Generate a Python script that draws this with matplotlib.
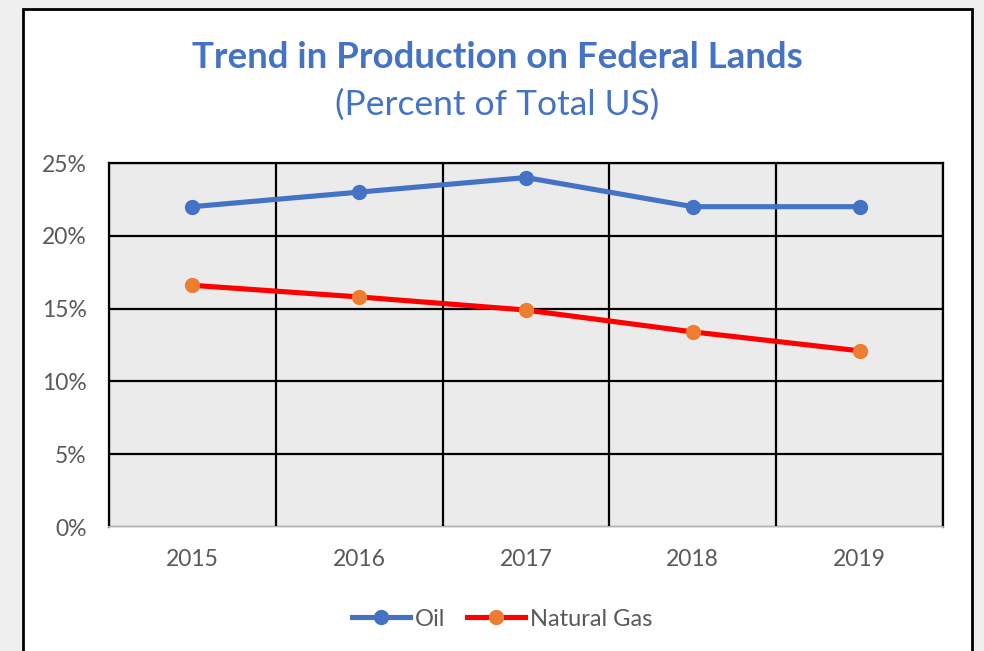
import numpy as np
import matplotlib.pyplot as plt
from matplotlib.patches import Rectangle
from matplotlib.ticker import FuncFormatter, MultipleLocator

years = ['2015', '2016', '2017', '2018', '2019']
oil = [22.0, 23.0, 24.0, 22.0, 22.0]
natural_gas = [16.6, 15.8, 14.9, 13.4, 12.1]

BLUE = '#4472C4'
ORANGE = '#ED7D31'
RED = '#FF0000'
GREY_TXT = '#595959'

plt.rcParams['font.family'] = ['Lato', 'DejaVu Sans']

fig = plt.figure(figsize=(9.84, 6.51), dpi=100)
fig.patch.set_facecolor('#efefef')

# white chart frame with black border (bottom runs off the image)
W, H = 984, 651
frame = Rectangle((23 / W, -20 / H), (972 - 23) / W, (651 - 9 + 20) / H,
                  transform=fig.transFigure, facecolor='white',
                  edgecolor='black', linewidth=2.0, zorder=-5)
fig.add_artist(frame)

ax = fig.add_axes([109 / W, 1 - 527 / H, (943 - 109) / W, (527 - 163) / H])
ax.set_zorder(2)
ax.set_facecolor('#ebebeb')

x = np.arange(len(years))
ax.plot(x, oil, color=BLUE, lw=3.7, marker='o', ms=10,
        mfc=BLUE, mec=BLUE, zorder=4, solid_capstyle='round')
ax.plot(x, natural_gas, color=RED, lw=3.7, marker='o', ms=10,
        mfc=ORANGE, mec=ORANGE, zorder=4, solid_capstyle='round')

ax.set_xlim(-0.5, len(years) - 0.5)
ax.set_ylim(0, 25)
ax.set_xticks(x)
ax.set_xticklabels(years)
ax.xaxis.set_minor_locator(MultipleLocator(1, offset=0.5))
ax.yaxis.set_major_locator(MultipleLocator(5))
ax.yaxis.set_major_formatter(FuncFormatter(lambda v, p: f'{v:.0f}%'))

ax.grid(which='minor', axis='x', color='black', lw=1.6, zorder=1)
ax.grid(which='major', axis='y', color='black', lw=1.6, zorder=1)
ax.set_axisbelow(True)

ax.tick_params(axis='both', which='both', length=0, colors=GREY_TXT, labelsize=16.5)
ax.tick_params(axis='x', pad=16)
ax.tick_params(axis='y', pad=16)

for side in ['top', 'left', 'right']:
    ax.spines[side].set_color('black')
    ax.spines[side].set_linewidth(1.6)
ax.spines['bottom'].set_color('#d9d9d9')
ax.spines['bottom'].set_linewidth(1.2)

fig.text(497 / W, 1 - 57 / H, 'Trend in Production on Federal Lands',
         ha='center', va='center', color=BLUE, fontsize=26.4, fontweight='bold')
fig.text(497 / W, 1 - 105 / H, '(Percent of Total US)',
         ha='center', va='center', color=BLUE, fontsize=25.5)

handles = [
    plt.Line2D([], [], color=BLUE, lw=3.7, marker='o', ms=10, mfc=BLUE, mec=BLUE),
    plt.Line2D([], [], color=RED, lw=3.7, marker='o', ms=10, mfc=ORANGE, mec=ORANGE),
]
leg = fig.legend(handles, ['Oil', 'Natural Gas'], loc='center',
                 bbox_to_anchor=(502 / W, 1 - 619 / H), ncol=2, frameon=False,
                 fontsize=17, handlelength=2.45, handletextpad=0.2,
                 columnspacing=0.95)
for t in leg.get_texts():
    t.set_color(GREY_TXT)

fig.savefig('out.png', dpi=100, facecolor=fig.get_facecolor())
